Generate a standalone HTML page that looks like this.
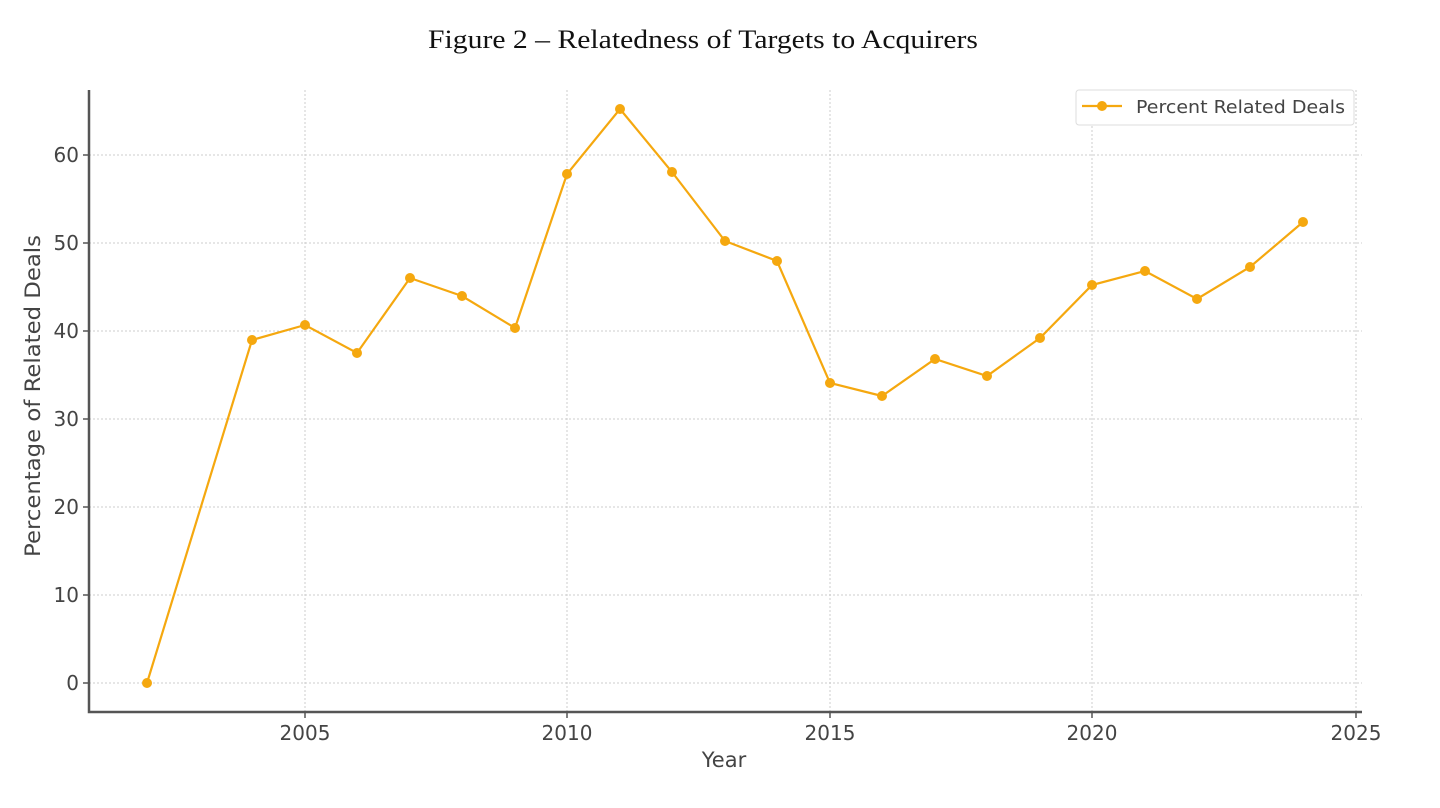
<!DOCTYPE html>
<html><head><meta charset="utf-8"><style>body{margin:0;background:#fff}</style></head>
<body>
<svg width="1440" height="803" xmlns="http://www.w3.org/2000/svg" font-family="DejaVu Sans, sans-serif">
<text x="703" y="48" text-anchor="middle" font-family="Liberation Serif, serif" font-size="26" textLength="550" lengthAdjust="spacingAndGlyphs" fill="#111">Figure 2 – Relatedness of Targets to Acquirers</text>
<g stroke="#ccc" stroke-width="1" stroke-dasharray="2,2">
<line x1="305" y1="90" x2="305" y2="712"/><line x1="567" y1="90" x2="567" y2="712"/><line x1="830" y1="90" x2="830" y2="712"/><line x1="1092" y1="90" x2="1092" y2="712"/><line x1="1356" y1="90" x2="1356" y2="712"/>
<line x1="89" y1="683" x2="1362" y2="683"/><line x1="89" y1="595" x2="1362" y2="595"/><line x1="89" y1="507" x2="1362" y2="507"/><line x1="89" y1="419" x2="1362" y2="419"/><line x1="89" y1="331" x2="1362" y2="331"/><line x1="89" y1="243" x2="1362" y2="243"/><line x1="89" y1="155" x2="1362" y2="155"/>
</g>
<g stroke="#555" stroke-width="2.5" fill="none"><polyline points="89,90 89,712 1362,712"/></g>
<g stroke="#555" stroke-width="1.5">
<line x1="83" y1="683" x2="89" y2="683"/><line x1="83" y1="595" x2="89" y2="595"/><line x1="83" y1="507" x2="89" y2="507"/><line x1="83" y1="419" x2="89" y2="419"/><line x1="83" y1="331" x2="89" y2="331"/><line x1="83" y1="243" x2="89" y2="243"/><line x1="83" y1="155" x2="89" y2="155"/>
<line x1="305" y1="712" x2="305" y2="718"/><line x1="567" y1="712" x2="567" y2="718"/><line x1="830" y1="712" x2="830" y2="718"/><line x1="1092" y1="712" x2="1092" y2="718"/><line x1="1356" y1="712" x2="1356" y2="718"/>
</g>
<g font-size="20" fill="#444" text-anchor="end">
<text x="79" y="690">0</text><text x="79" y="602">10</text><text x="79" y="514">20</text><text x="79" y="426">30</text><text x="79" y="338">40</text><text x="79" y="250">50</text><text x="79" y="162">60</text>
</g>
<g font-size="20" fill="#444" text-anchor="middle">
<text x="305" y="740">2005</text><text x="567" y="740">2010</text><text x="830" y="740">2015</text><text x="1092" y="740">2020</text><text x="1356" y="740">2025</text>
<text x="724" y="767" font-size="21">Year</text>
<text transform="translate(40,396) rotate(-90)" font-size="21" textLength="322" lengthAdjust="spacingAndGlyphs">Percentage of Related Deals</text>
</g>
<polyline fill="none" stroke="#f5a80f" stroke-width="2.2" points="147,683 252,340 305,325 357,353 410,278 462,296 515,328 567,174 620,109 672,172 725,241 777,261 830,383 882,396 935,359 987,376 1040,338 1092,285 1145,271 1197,299 1250,267 1303,222"/>
<g fill="#f5a80f">
<circle cx="147" cy="683" r="5"/><circle cx="252" cy="340" r="5"/><circle cx="305" cy="325" r="5"/><circle cx="357" cy="353" r="5"/><circle cx="410" cy="278" r="5"/><circle cx="462" cy="296" r="5"/><circle cx="515" cy="328" r="5"/><circle cx="567" cy="174" r="5"/><circle cx="620" cy="109" r="5"/><circle cx="672" cy="172" r="5"/><circle cx="725" cy="241" r="5"/><circle cx="777" cy="261" r="5"/><circle cx="830" cy="383" r="5"/><circle cx="882" cy="396" r="5"/><circle cx="935" cy="359" r="5"/><circle cx="987" cy="376" r="5"/><circle cx="1040" cy="338" r="5"/><circle cx="1092" cy="285" r="5"/><circle cx="1145" cy="271" r="5"/><circle cx="1197" cy="299" r="5"/><circle cx="1250" cy="267" r="5"/><circle cx="1303" cy="222" r="5"/>
</g>
<rect x="1076" y="90" width="278" height="35" rx="3" fill="#fff" stroke="#ddd"/>
<line x1="1082" y1="106" x2="1122" y2="106" stroke="#f5a80f" stroke-width="2.2"/>
<circle cx="1102" cy="106" r="5" fill="#f5a80f"/>
<text x="1136" y="113" font-size="18" textLength="209" lengthAdjust="spacingAndGlyphs" fill="#444">Percent Related Deals</text>
</svg>
</body></html>
